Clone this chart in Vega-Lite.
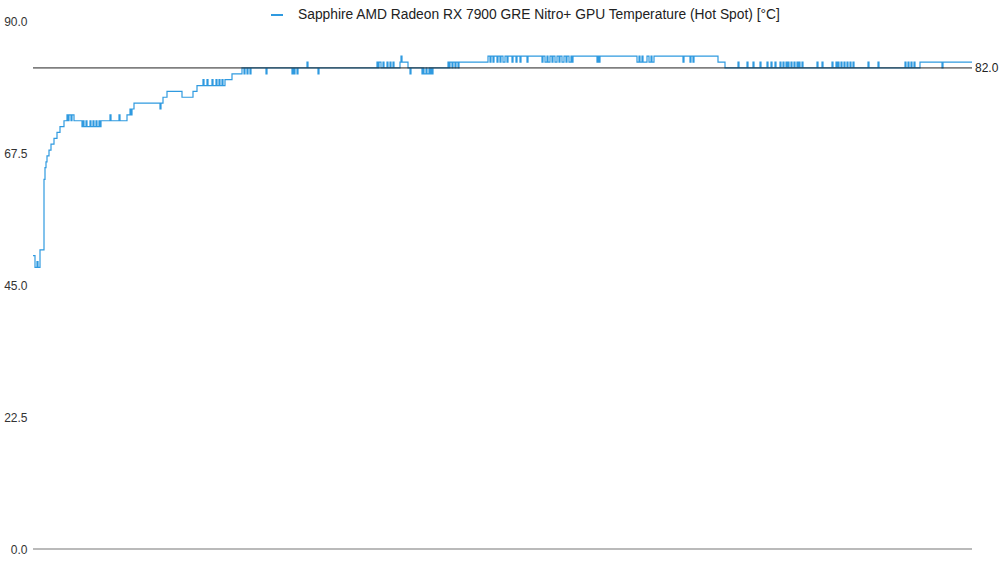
{
  "$schema": "https://vega.github.io/schema/vega-lite/v6.json",
  "width": 939,
  "height": 528,
  "autosize": {"type": "none"},
  "padding": {"left": 33, "top": 21, "right": 28, "bottom": 14},
  "background": "white",
  "config": {"view": {"stroke": null}, "font": "Liberation Sans"},
  "data": {"values": [
    {"t":0,"temp":50},{"t":2,"temp":48},{"t":4,"temp":49},{"t":5,"temp":48},{"t":7,"temp":51},
    {"t":11,"temp":63},{"t":12,"temp":65},{"t":13,"temp":66},{"t":14,"temp":67},{"t":16,"temp":68},
    {"t":18,"temp":69},{"t":21,"temp":70},{"t":24,"temp":71},{"t":27,"temp":72},{"t":31,"temp":73},
    {"t":34,"temp":74},{"t":35,"temp":73},{"t":36,"temp":74},{"t":38,"temp":73},{"t":39,"temp":74},
    {"t":41,"temp":73},{"t":49,"temp":72},{"t":50,"temp":73},{"t":51,"temp":72},{"t":53,"temp":73},
    {"t":54,"temp":72},{"t":57,"temp":73},{"t":58,"temp":72},{"t":60,"temp":73},{"t":61,"temp":72},
    {"t":63,"temp":73},{"t":64,"temp":72},{"t":66,"temp":73},{"t":67,"temp":72},{"t":68,"temp":73},
    {"t":77,"temp":74},{"t":78,"temp":73},{"t":86,"temp":74},{"t":87,"temp":73},{"t":94,"temp":74},
    {"t":97,"temp":75},{"t":98,"temp":74},{"t":99,"temp":75},{"t":101,"temp":76},{"t":127,"temp":75},
    {"t":128,"temp":76},{"t":130,"temp":77},{"t":134,"temp":78},{"t":149,"temp":77},{"t":160,"temp":78},
    {"t":164,"temp":79},{"t":170,"temp":80},{"t":171,"temp":79},{"t":174,"temp":80},{"t":175,"temp":79},
    {"t":179,"temp":80},{"t":180,"temp":79},{"t":183,"temp":80},{"t":184,"temp":79},{"t":186,"temp":80},
    {"t":187,"temp":79},{"t":189,"temp":80},{"t":190,"temp":79},{"t":192,"temp":80},{"t":199,"temp":81},
    {"t":209,"temp":82},{"t":211,"temp":81},{"t":212,"temp":82},{"t":214,"temp":81},{"t":215,"temp":82},
    {"t":217,"temp":81},{"t":218,"temp":82},{"t":233,"temp":81},{"t":234,"temp":82},{"t":259,"temp":81},
    {"t":260,"temp":82},{"t":261,"temp":81},{"t":262,"temp":82},{"t":264,"temp":81},{"t":265,"temp":82},
    {"t":274,"temp":83},{"t":275,"temp":82},{"t":285,"temp":81},{"t":286,"temp":82},{"t":344,"temp":83},
    {"t":345,"temp":82},{"t":346,"temp":83},{"t":348,"temp":82},{"t":350,"temp":83},{"t":351,"temp":82},
    {"t":354,"temp":83},{"t":355,"temp":82},{"t":357,"temp":83},{"t":358,"temp":82},{"t":360,"temp":83},
    {"t":361,"temp":82},{"t":367,"temp":83},{"t":368,"temp":84},{"t":369,"temp":83},{"t":375,"temp":82},
    {"t":377,"temp":81},{"t":378,"temp":82},{"t":389,"temp":81},{"t":390,"temp":82},{"t":391,"temp":81},
    {"t":393,"temp":82},{"t":394,"temp":81},{"t":396,"temp":82},{"t":397,"temp":81},{"t":398,"temp":82},
    {"t":399,"temp":81},{"t":400,"temp":82},{"t":415,"temp":83},{"t":416,"temp":82},{"t":417,"temp":83},
    {"t":419,"temp":82},{"t":420,"temp":83},{"t":422,"temp":82},{"t":423,"temp":83},{"t":425,"temp":82},
    {"t":426,"temp":83},{"t":455,"temp":84},{"t":457,"temp":83},{"t":458,"temp":84},{"t":460,"temp":83},
    {"t":461,"temp":84},{"t":464,"temp":83},{"t":465,"temp":84},{"t":467,"temp":83},{"t":468,"temp":84},
    {"t":470,"temp":83},{"t":472,"temp":84},{"t":474,"temp":83},{"t":475,"temp":84},{"t":479,"temp":83},
    {"t":480,"temp":84},{"t":483,"temp":83},{"t":484,"temp":84},{"t":487,"temp":83},{"t":488,"temp":84},
    {"t":494,"temp":83},{"t":495,"temp":84},{"t":509,"temp":83},{"t":510,"temp":84},{"t":512,"temp":83},
    {"t":514,"temp":84},{"t":515,"temp":83},{"t":517,"temp":84},{"t":519,"temp":83},{"t":520,"temp":84},
    {"t":522,"temp":83},{"t":524,"temp":84},{"t":526,"temp":83},{"t":527,"temp":84},{"t":529,"temp":83},
    {"t":531,"temp":84},{"t":533,"temp":83},{"t":534,"temp":84},{"t":536,"temp":83},{"t":538,"temp":84},
    {"t":539,"temp":83},{"t":540,"temp":84},{"t":564,"temp":83},{"t":565,"temp":84},{"t":566,"temp":83},
    {"t":567,"temp":84},{"t":604,"temp":83},{"t":606,"temp":84},{"t":607,"temp":83},{"t":609,"temp":84},
    {"t":610,"temp":83},{"t":614,"temp":84},{"t":616,"temp":83},{"t":618,"temp":84},{"t":619,"temp":83},
    {"t":621,"temp":84},{"t":650,"temp":83},{"t":651,"temp":84},{"t":657,"temp":83},{"t":658,"temp":84},
    {"t":660,"temp":83},{"t":661,"temp":84},{"t":685,"temp":83},{"t":692,"temp":82},
    {"t":705,"temp":83},{"t":706,"temp":82},{"t":714,"temp":83},{"t":715,"temp":82},{"t":720,"temp":83},
    {"t":721,"temp":82},{"t":727,"temp":83},{"t":728,"temp":82},{"t":734,"temp":83},{"t":735,"temp":82},
    {"t":738,"temp":83},{"t":739,"temp":82},{"t":742,"temp":83},{"t":743,"temp":82},{"t":747,"temp":83},
    {"t":748,"temp":82},{"t":750,"temp":83},{"t":751,"temp":82},{"t":753,"temp":83},{"t":754,"temp":82},
    {"t":755,"temp":83},{"t":756,"temp":82},{"t":758,"temp":83},{"t":759,"temp":82},{"t":761,"temp":83},
    {"t":762,"temp":82},{"t":764,"temp":83},{"t":765,"temp":82},{"t":766,"temp":83},{"t":767,"temp":82},
    {"t":769,"temp":83},{"t":770,"temp":82},{"t":784,"temp":83},{"t":785,"temp":82},{"t":789,"temp":83},
    {"t":790,"temp":82},{"t":799,"temp":83},{"t":800,"temp":82},{"t":803,"temp":83},{"t":804,"temp":82},
    {"t":805,"temp":83},{"t":806,"temp":82},{"t":808,"temp":83},{"t":809,"temp":82},{"t":811,"temp":83},
    {"t":812,"temp":82},{"t":814,"temp":83},{"t":815,"temp":82},{"t":817,"temp":83},{"t":818,"temp":82},
    {"t":820,"temp":83},{"t":821,"temp":82},{"t":835,"temp":83},{"t":836,"temp":82},{"t":845,"temp":83},
    {"t":846,"temp":82},{"t":872,"temp":83},{"t":873,"temp":82},{"t":875,"temp":83},{"t":876,"temp":82},
    {"t":878,"temp":83},{"t":879,"temp":82},{"t":881,"temp":83},{"t":882,"temp":82},{"t":887,"temp":83},
    {"t":909,"temp":82},{"t":910,"temp":83},{"t":939,"temp":83}
  ]},
  "layer": [
    {
      "data": {"values": [{}]},
      "mark": {"type": "rule", "color": "#a3a3a3", "strokeWidth": 1.5},
      "encoding": {"y": {"datum": 0, "type": "quantitative"}}
    },
    {
      "mark": {"type": "line", "interpolate": "step-after", "strokeWidth": 1.2},
      "encoding": {
        "x": {"field": "t", "type": "quantitative", "scale": {"domain": [0, 939], "nice": false}, "axis": null},
        "y": {
          "field": "temp", "type": "quantitative",
          "scale": {"domain": [0, 90], "nice": false, "zero": true},
          "axis": {
            "values": [0, 22.5, 45, 67.5, 90], "format": ".1f", "title": null,
            "domain": false, "ticks": false, "labelPadding": 6,
            "labelFontSize": 12, "labelColor": "#333333", "labelFont": "Liberation Sans",
            "gridColor": "#e4e4e4", "gridWidth": 1
          }
        },
        "color": {
          "datum": "Sapphire AMD Radeon RX 7900 GRE Nitro+ GPU Temperature (Hot Spot) [°C]",
          "type": "nominal",
          "scale": {"range": ["#2f9ae0"]},
          "legend": {
            "title": null, "orient": "none", "legendX": 237, "legendY": -13,
            "direction": "horizontal", "labelFontSize": 13.8, "labelColor": "#222222",
            "labelFont": "Liberation Sans",
            "symbolType": "stroke", "symbolSize": 144, "symbolStrokeWidth": 2,
            "labelOffset": 14, "labelLimit": 1000
          }
        }
      }
    },
    {
      "data": {"values": [{}]},
      "mark": {"type": "rule", "color": "#222222", "strokeWidth": 1},
      "encoding": {"y": {"datum": 82, "type": "quantitative"}}
    },
    {
      "data": {"values": [{}]},
      "mark": {"type": "text", "align": "left", "baseline": "middle", "dx": 3, "fontSize": 12, "color": "#222222", "font": "Liberation Sans"},
      "encoding": {
        "x": {"datum": 939, "type": "quantitative"},
        "y": {"datum": 82, "type": "quantitative"},
        "text": {"value": "82.0"}
      }
    }
  ]
}
